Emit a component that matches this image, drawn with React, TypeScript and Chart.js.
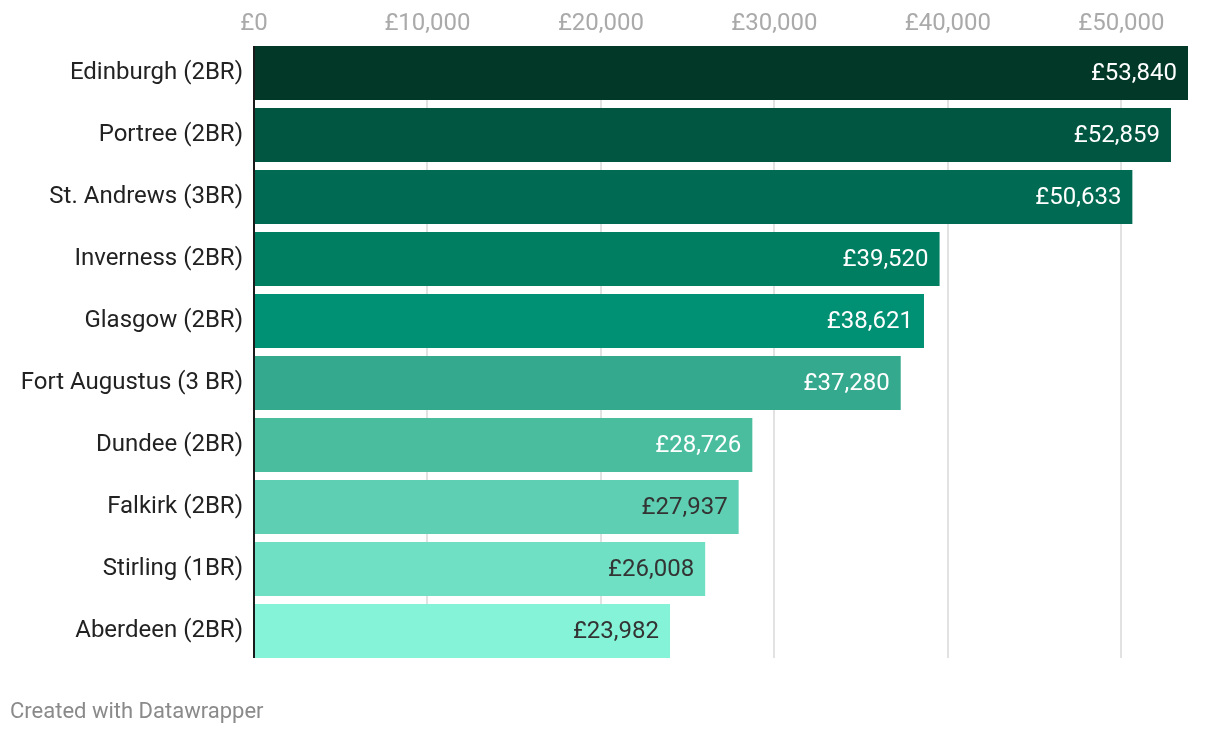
import React, { useEffect, useRef } from "react";
import { Chart, registerables } from "chart.js";

Chart.register(...registerables);

const categories = [
  "Edinburgh (2BR)",
  "Portree (2BR)",
  "St. Andrews (3BR)",
  "Inverness (2BR)",
  "Glasgow (2BR)",
  "Fort Augustus (3 BR)",
  "Dundee (2BR)",
  "Falkirk (2BR)",
  "Stirling (1BR)",
  "Aberdeen (2BR)",
];
const values = [53840, 52859, 50633, 39520, 38621, 37280, 28726, 27937, 26008, 23982];
const tickValues = [0, 10000, 20000, 30000, 40000, 50000];

const barColors = [
  "#013827", "#005640", "#006b52", "#007e62", "#009074",
  "#35a98e", "#4bbd9f", "#5ecfb2", "#6fe0c4", "#85f3d7",
];
const labelColors = [
  "#ffffff", "#ffffff", "#ffffff", "#ffffff", "#ffffff",
  "#ffffff", "#ffffff", "#333333", "#333333", "#333333",
];

const fmt = (v: number) => "£" + v.toLocaleString("en-GB");

const customDraw = {
  id: "customDraw",
  beforeDatasetsDraw(chart: any) {
    const ctx = chart.ctx;
    const meta = chart.getDatasetMeta(0);
    const first = meta.data[0];
    const last = meta.data[meta.data.length - 1];
    const top = first.y - first.height / 2;
    const bottom = last.y + last.height / 2;
    const xs = chart.scales.x;
    ctx.save();
    ctx.strokeStyle = "#e2e2e2";
    ctx.lineWidth = 2;
    tickValues.forEach((v) => {
      if (v === 0) return;
      const px = Math.round(xs.getPixelForValue(v));
      ctx.beginPath();
      ctx.moveTo(px, top);
      ctx.lineTo(px, bottom);
      ctx.stroke();
    });
    ctx.restore();
  },
  afterDatasetsDraw(chart: any) {
    const ctx = chart.ctx;
    const meta = chart.getDatasetMeta(0);
    const first = meta.data[0];
    const last = meta.data[meta.data.length - 1];
    const top = first.y - first.height / 2;
    const bottom = last.y + last.height / 2;
    const x0 = chart.scales.x.getPixelForValue(0);
    ctx.save();
    ctx.font = "24px Roboto";
    ctx.textAlign = "right";
    ctx.textBaseline = "middle";
    meta.data.forEach((bar: any, i: number) => {
      ctx.fillStyle = labelColors[i];
      ctx.fillText(fmt(values[i]), bar.x - 11, bar.y + 1);
    });
    ctx.strokeStyle = "#1a1a1a";
    ctx.lineWidth = 2;
    ctx.beginPath();
    ctx.moveTo(x0, top);
    ctx.lineTo(x0, bottom);
    ctx.stroke();
    ctx.restore();
  },
};

export default function App() {
  const ref = useRef<HTMLCanvasElement>(null);
  useEffect(() => {
    if (!ref.current) return;
    const chart = new Chart(ref.current, {
      type: "bar",
      data: {
        labels: categories,
        datasets: [
          {
            data: values,
            backgroundColor: barColors,
            borderWidth: 0,
            categoryPercentage: 1,
            barPercentage: 0.871,
          },
        ],
      },
      options: {
        indexAxis: "y",
        animation: false,
        responsive: false,
        maintainAspectRatio: false,
        layout: { padding: { left: 0, right: 32, top: 0, bottom: 72 } },
        plugins: { legend: { display: false }, tooltip: { enabled: false } },
        scales: {
          x: {
            position: "top",
            min: 0,
            max: 53840,
            afterBuildTicks(scale: any) {
              scale.ticks = tickValues.map((v) => ({ value: v }));
            },
            afterFit(scale: any) {
              scale.height = 42;
            },
            ticks: {
              color: "#aaaaaa",
              font: { family: "Roboto", size: 24 },
              padding: 4,
              maxRotation: 0,
              callback: (v: any) => fmt(Number(v)),
            },
            grid: { display: false, drawTicks: false },
            border: { display: false },
          },
          y: {
            afterFit(scale: any) {
              scale.width = 254;
            },
            ticks: {
              color: "#222222",
              font: { family: "Roboto", size: 24 },
              padding: 11,
            },
            grid: { display: false, drawTicks: false },
            border: { display: false },
          },
        },
      },
      plugins: [customDraw],
    });
    return () => chart.destroy();
  }, []);
  return (
    <div style={{ position: "absolute", left: 0, top: 0, width: 1220, height: 734, background: "#fff" }}>
      <canvas ref={ref} width={1220} height={734} style={{ display: "block" }} />
      <div
        style={{
          position: "absolute",
          left: 10,
          top: 697,
          fontFamily: "Roboto",
          fontSize: 22,
          color: "#8a8a8a",
          lineHeight: "28px",
        }}
      >
        Created with Datawrapper
      </div>
    </div>
  );
}
